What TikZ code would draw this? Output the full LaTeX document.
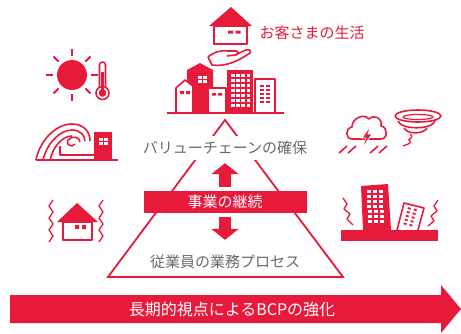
\documentclass[tikz,border=0pt]{standalone}
\usepackage{fontspec}
\setmainfont{Noto Sans CJK JP}
\usepackage{tikz}
\usetikzlibrary{
	positioning,
	arrows.meta,
	calc
}
\definecolor{BcpRed}{RGB}{232,26,60}
\definecolor{LabelGray}{RGB}{105,105,105}

\begin{document}
\begin{tikzpicture}[
	x=1pt,
	y=-1pt,
	every node/.style={
		font=\fontsize{15}{18}\selectfont
	},
	icon/.style={
		draw=BcpRed,
		line width=1.6pt,
		line join=round
	},
	graylabel/.style={
		text=LabelGray,
		inner sep=1pt,
		minimum height=24pt
	},
	redbar/.style={
		fill=BcpRed,
		text=white,
		minimum width=163pt,
		minimum height=22pt
	},
	fatarrow/.style={
		draw=BcpRed,
		line width=12pt,
		-{Triangle[length=11pt,width=27pt]}
	}
	]
	
	\useasboundingbox (0,0) rectangle (461,333);
	
	\coordinate (top) at (225,120);
	\coordinate (left) at (108,277);
	\coordinate (right) at (343,277);
	
	\draw[
	BcpRed,
	line width=1.8pt
	] (top) -- (right) -- (left) -- cycle;
	
	\node[
	graylabel,
	fill=white
	] (chain) at (225,148) {バリューチェーンの確保};
	
	\node[
	graylabel
	] (process) at (225,262) {従業員の業務プロセス};
	
	\node[
	redbar
	] (continuity) at (225,202) {事業の継続};
	
	\draw[
	fatarrow,
	shorten <=4pt,
	shorten >=3pt
	] (continuity.north) -- (chain.south);
	
	\draw[
	fatarrow,
	shorten <=4pt,
	shorten >=10pt
	] (continuity.south) -- (process.north);
	
	% long term arrow
	\fill[BcpRed] (10,295) -- (441,295) -- (441,285) -- (461,309)
	-- (441,333) -- (441,323) -- (10,323) -- cycle;
	\node[
	text=white,
	font=\fontsize{16}{19}\selectfont
	] (bcp) at (232,309) {長期的視点によるBCPの強化};
	
	% home and hand
	\fill[BcpRed] (209,26) -- (231,7) -- (252,26) -- cycle;
	\draw[icon, line width=2pt] (214,26) rectangle (247,44);
	\fill[BcpRed] (228,30.5) rectangle ++(5,3) (235.5,30.5) rectangle ++(5,3);
	\node[
	text=BcpRed,
	anchor=west
	] (life) at (256,33) {お客さまの生活};
	\draw[icon] (208,57) .. controls (214,52) and (220,50) .. (228,51) -- (236,51)
	.. controls (239,51) and (239,55) .. (235,55) -- (227,56);
	\draw[icon] (208,57) -- (212,65) .. controls (226,67) and (238,61) .. (250,53)
	.. controls (252,51) and (249,49) .. (246,50) -- (235,55);
	
	% town
	\fill[BcpRed] (187,113) -- (187,70) -- (200,63) -- (213,70) -- (213,113) -- cycle;
	\foreach \i in {0,1}
	\foreach \j in {0,1}
	\fill[white] ({198+\i*5},{76+\j*4}) rectangle ++(4,3);
	\draw[icon, fill=white] (176,113) -- (176,88) -- (185,80) -- (193,86) -- (193,113);
	\fill[BcpRed] (180,91) rectangle ++(4,3) (186,91) rectangle ++(4,3);
	\draw[icon, fill=white] (208,113) -- (208,88) -- (226,88) -- (226,113);
	\fill[BcpRed] (212,93) rectangle ++(4,2.5) (218,93) rectangle ++(4,2.5);
	\fill[BcpRed] (227,70) rectangle (253,113);
	\foreach \i in {0,...,3}
	\foreach \j in {0,...,6}
	\fill[white] ({231+\i*5.2},{74+\j*5}) rectangle ++(3.5,3);
	\draw[icon, fill=white] (255,113) -- (255,79) -- (275,79) -- (275,113);
	\foreach \i in {0,1}
	\foreach \j in {0,...,4}
	\fill[BcpRed] ({260+\i*6},{85+\j*4}) rectangle ++(4,2);
	\draw[BcpRed, line width=1.5pt] (167,113) -- (284,113);
	
	% heat
	\fill[BcpRed] (72,75) circle (15);
	\foreach \a in {0,45,...,315}
	\draw[BcpRed, line width=1.8pt] ($(72,75)+(\a:19)$) -- ($(72,75)+(\a:26)$);
	\draw[icon, fill=white] (99.5,87) -- (99.5,65) arc(180:360:3) -- (105.5,87);
	\draw[icon, fill=white] (102.5,93) circle (6.5);
	\fill[BcpRed] (102.5,93) circle (3.8);
	\draw[BcpRed, line width=2.2pt] (102.5,92) -- (102.5,72);
	
	% tsunami
	\draw[icon] (36,160) .. controls (40,140) and (56,124) .. (72,124)
	.. controls (84,124) and (90,132) .. (90,141);
	\draw[icon] (43,160) .. controls (47,143) and (60,130) .. (72,130)
	.. controls (80,130) and (85,135) .. (85,141);
	\draw[icon] (50,160) .. controls (53,147) and (62,136) .. (72,136);
	\draw[icon] (80,142) .. controls (80,137) and (72,135) .. (68,140)
	.. controls (65,145) and (72,148) .. (75,144);
	\draw[icon] (60,146) -- (60,155) -- (94,155);
	\fill[BcpRed] (94,132) rectangle (112,160);
	\foreach \i in {0,1}
	\foreach \j in {0,1}
	\fill[white] ({99+\i*5},{138+\j*4}) rectangle ++(4,3);
	\draw[BcpRed, line width=2pt] (36,160) -- (118,160);
	
	% earthquake house
	\fill[BcpRed] (57,222) -- (77,203) -- (98,222) -- cycle;
	\draw[icon] (63,222) rectangle (92,240);
	\fill[BcpRed] (75,225) rectangle ++(4,4) (82,225) rectangle ++(4,4);
	\draw[icon, line width=1.3pt] (53,200) -- (49,206) -- (53,212) -- (49,218)
	-- (53,224) -- (49,230) -- (53,236) -- (49,242);
	\draw[icon, line width=1.3pt] (103,200) -- (99,206) -- (103,212) -- (99,218)
	-- (103,224) -- (99,230) -- (103,236) -- (99,242);
	
	% storm
	\draw[icon] (352,139) .. controls (345,139) and (345,128) .. (352,127)
	.. controls (352,118) and (364,113) .. (369,119)
	.. controls (374,114) and (383,118) .. (381,126)
	.. controls (388,127) and (388,139) .. (381,139) -- cycle;
	\fill[BcpRed, draw=white, line width=0.8pt] (371,125) -- (362,138) -- (366,138)
	-- (361,150) -- (372,134) -- (368,134) -- cycle;
	\foreach \x in {339,348,370,379}
	\draw[BcpRed, line width=1.6pt] (\x,153) -- ++(8,-7);
	
	% tornado
	\draw[icon] (418,116) ellipse (23 and 6);
	\draw[icon, line width=1.2pt] (418,117) ellipse (15 and 2.5);
	\draw[icon] (398,121) .. controls (401,130) and (432,130) .. (435,121);
	\draw[icon] (404,128) .. controls (408,135) and (424,134) .. (427,128);
	\draw[icon, line width=1.3pt] (410,134) .. controls (416,139) and (405,139) .. (410,141)
	.. controls (412,143) and (406,145) .. (403,146);
	
	% earthquake buildings
	\fill[BcpRed] (361,186) -- (388,184) -- (391,230) -- (363,230) -- cycle;
	\foreach \i in {0,1,2}
	\foreach \j in {0,...,6}
	\fill[white] ({367+\i*6+\j*0.15},{190+\j*5}) rectangle ++(4,3);
	\draw[icon, fill=white] (397,230) -- (404,203) -- (424,208) -- (418,230);
	\foreach \a in {5,11}
	\foreach \b in {4,8,12,16,20}
	\draw[BcpRed, line width=1.8pt] ({404+0.97*\a-0.26*\b},{203+0.24*\a+0.96*\b})
	-- ++(3,0.75);
	\fill[BcpRed] (341,230) rectangle (438,241);
	\draw[icon, line width=1.3pt] (343,198) -- (347,204) -- (344,209) -- (350,214)
	-- (347,219) -- (353,225);
	\draw[icon, line width=1.3pt] (438,200) -- (434,206) -- (437,211) -- (431,216)
	-- (434,221) -- (428,226);
	
\end{tikzpicture}
\end{document}
